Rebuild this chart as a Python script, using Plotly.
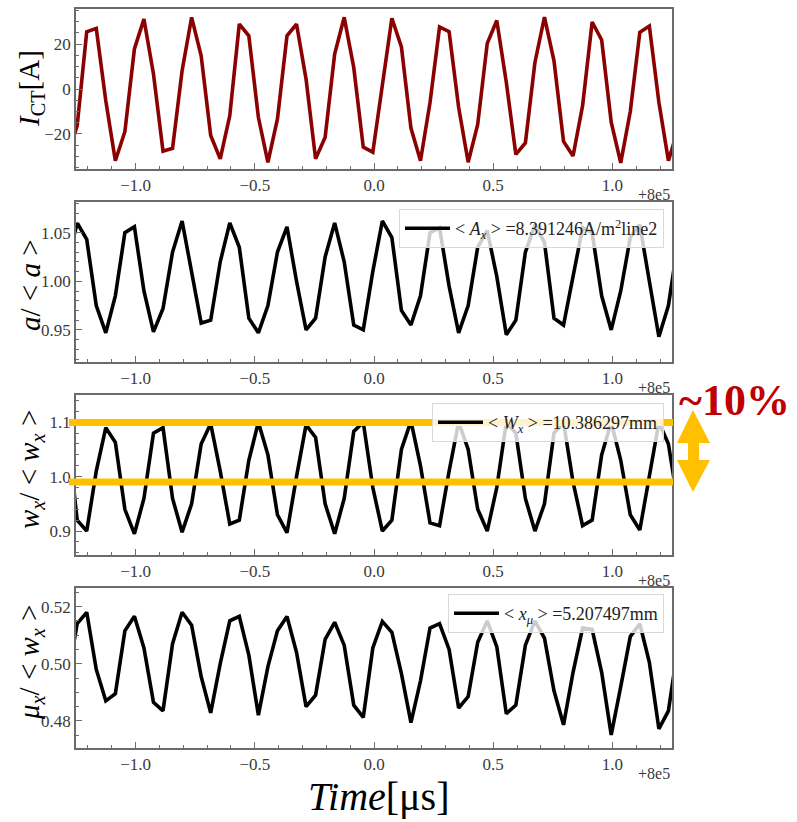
import plotly.graph_objects as go

# ---------------- data ----------------
time_us = [-1.285, -1.245, -1.205, -1.165, -1.125, -1.085, -1.045, -1.005, -0.965, -0.925,
           -0.885, -0.845, -0.805, -0.765, -0.725, -0.685, -0.645, -0.605, -0.565, -0.525,
           -0.485, -0.445, -0.405, -0.365, -0.325, -0.285, -0.245, -0.205, -0.165, -0.125,
           -0.085, -0.045, -0.005, 0.035, 0.075, 0.115, 0.155, 0.195, 0.235, 0.275,
           0.315, 0.355, 0.395, 0.435, 0.475, 0.515, 0.555, 0.595, 0.635, 0.675,
           0.715, 0.755, 0.795, 0.835, 0.875, 0.915, 0.955, 0.995, 1.035, 1.075,
           1.115, 1.155, 1.195, 1.235, 1.275]

i_ct = [-30.0, -16.3, 25.5, 27.0, -5.2, -31.9, -19.0, 17.8, 31.1, 6.7,
        -27.7, -26.4, 8.1, 31.9, 14.8, -20.7, -31.1, -11.9, 28.9, 23.7,
        -12.6, -32.6, -13.3, 23.7, 28.9, 4.4, -31.1, -21.5, 15.5, 31.9,
        9.6, -25.9, -28.1, 3.0, 31.5, 18.7, -17.4, -31.9, -6.0, 27.6,
        25.5, -8.1, -32.6, -15.8, 20.3, 30.5, 3.0, -29.1, -24.0, 11.8,
        32.0, 12.5, -23.3, -29.8, -7.4, 29.8, 21.8, -14.8, -32.9, -10.0,
        25.2, 28.0, -5.9, -31.9, -18.0]

a_norm = [1.020, 1.060, 1.043, 0.975, 0.947, 0.985, 1.050, 1.056, 0.990, 0.948,
          0.972, 1.030, 1.062, 1.010, 0.957, 0.960, 1.020, 1.060, 1.035, 0.962,
          0.947, 0.975, 1.030, 1.056, 1.000, 0.950, 0.962, 1.025, 1.060, 1.020,
          0.955, 0.950, 1.010, 1.062, 1.045, 0.970, 0.955, 0.985, 1.050, 1.055,
          0.995, 0.947, 0.975, 1.035, 1.052, 1.005, 0.945, 0.960, 1.030, 1.058,
          1.040, 0.962, 0.955, 1.005, 1.055, 1.050, 0.985, 0.950, 0.990, 1.045,
          1.058, 1.000, 0.943, 0.975, 1.040]

wx_norm = [1.080, 0.920, 0.900, 1.010, 1.090, 1.063, 0.940, 0.895, 0.960, 1.080,
           1.090, 0.960, 0.898, 0.950, 1.060, 1.097, 1.010, 0.913, 0.920, 1.030,
           1.100, 1.040, 0.930, 0.897, 1.000, 1.095, 1.072, 0.950, 0.895, 0.960,
           1.083, 1.100, 0.980, 0.900, 0.920, 1.050, 1.102, 1.020, 0.915, 0.910,
           1.010, 1.100, 1.050, 0.940, 0.900, 0.980, 1.100, 1.080, 0.960, 0.900,
           0.950, 1.080, 1.100, 0.990, 0.910, 0.920, 1.040, 1.100, 1.030, 0.930,
           0.902, 1.000, 1.100, 1.060, 0.950]

mux_norm = [0.495, 0.514, 0.518, 0.498, 0.487, 0.4895, 0.5115, 0.5166, 0.5055, 0.4865,
            0.4835, 0.507, 0.518, 0.5135, 0.4955, 0.4828, 0.500, 0.515, 0.5166, 0.503,
            0.482, 0.499, 0.5115, 0.5165, 0.504, 0.485, 0.489, 0.5085, 0.5145, 0.5065,
            0.4855, 0.4812, 0.5055, 0.5148, 0.511, 0.4965, 0.4794, 0.494, 0.5125, 0.514,
            0.505, 0.4845, 0.4885, 0.5075, 0.515, 0.506, 0.4825, 0.4855, 0.5065, 0.515,
            0.509, 0.4905, 0.4786, 0.497, 0.5125, 0.512, 0.497, 0.4751, 0.492, 0.5095,
            0.514, 0.5005, 0.4772, 0.4835, 0.506]

legend_names = [
    None,
    "&lt; <i>A<sub>x</sub></i> &gt; =8.391246A/m<sup>2</sup>line2",
    "&lt; <i>W<sub>x</sub></i> &gt; =10.386297mm",
    "&lt; <i>x<sub>μ</sub></i> &gt; =5.207497mm",
]
y_titles = [
    "<i>I</i><sub>CT</sub>[A]",
    "<i>a</i>/ &lt; <i>a</i> &gt;",
    "<i>w<sub>x</sub></i>/ &lt; <i>w<sub>x</sub></i> &gt;",
    "<i>μ<sub>x</sub></i>/ &lt; <i>w<sub>x</sub></i> &gt;",
]
x_tickvals = [-1.0, -0.5, 0.0, 0.5, 1.0]
x_ticktext = ["−1.0", "−0.5", "0.0", "0.5", "1.0"]
band_levels = [1.0995, 0.990]   # orange reference lines on w_x panel

# ---------------- layout helpers ----------------
W, H = 797, 822
PX_L, PX_R = 76, 672
panels_px = [(9, 169), (202, 362), (395, 555), (588, 748)]
FONT = "Liberation Serif"


def xp(px):
    return px / W


def yp(py):
    return 1 - py / H


series = [i_ct, a_norm, wx_norm, mux_norm]
colors = ["#8b0000", "black", "black", "black"]
legend_ids = [None, "legend", "legend2", "legend3"]
y_ranges = [[-35.6, 35.6], [0.917, 1.0815], [0.856, 1.15], [0.4705, 0.5265]]
y_dticks = [20, 0.05, 0.1, 0.02]
y_minor = [5, 0.01, 0.02, 0.005]
y_formats = ["d", ".2f", ".1f", ".2f"]

fig = go.Figure()
for k in range(4):
    ax = "" if k == 0 else str(k + 1)
    tr = dict(x=time_us, y=series[k], mode="lines",
              line=dict(color=colors[k], width=3.6),
              xaxis="x" + ax, yaxis="y" + ax)
    if legend_ids[k] is None:
        tr["showlegend"] = False
    else:
        tr["name"] = legend_names[k]
        tr["legend"] = legend_ids[k]
        tr["showlegend"] = True
    fig.add_trace(go.Scatter(**tr))

layout = dict(
    width=W, height=H,
    margin=dict(l=0, r=0, t=0, b=0),
    paper_bgcolor="white", plot_bgcolor="white",
    font=dict(family=FONT, size=17, color="#333333"),
)

axis_line = dict(showline=True, mirror=True, linecolor="#6b6b6b", linewidth=1.6,
                 showgrid=False, zeroline=False, automargin=False,
                 ticks="inside", ticklen=6, tickwidth=1.2, tickcolor="#6b6b6b",
                 tickfont=dict(family=FONT, size=17, color="#3a3a3a"))

for k in range(4):
    ax = "" if k == 0 else str(k + 1)
    top, bot = panels_px[k]
    layout["xaxis" + ax] = dict(
        domain=[xp(PX_L), xp(PX_R)], anchor="y" + ax, range=[-1.25, 1.25],
        tickmode="array", tickvals=x_tickvals, ticktext=x_ticktext,
        minor=dict(ticks="inside", ticklen=3, tickcolor="#6b6b6b", dtick=0.1, tick0=0,
                   showgrid=False),
        **axis_line)
    layout["yaxis" + ax] = dict(
        domain=[yp(bot), yp(top)], anchor="x" + ax, range=y_ranges[k],
        dtick=y_dticks[k], tick0=0, tickformat=y_formats[k],
        minor=dict(ticks="inside", ticklen=3, tickcolor="#6b6b6b", dtick=y_minor[k],
                   tick0=0, showgrid=False),
        **axis_line)

legend_px = [None, (664, 209), (664, 403), (664, 594)]
for k in range(1, 4):
    lid = legend_ids[k]
    layout[lid] = dict(
        x=xp(legend_px[k][0]), y=yp(legend_px[k][1]), xanchor="right", yanchor="top",
        bgcolor="rgba(255,255,255,0.8)", bordercolor="#d9d9d9", borderwidth=1,
        font=dict(family=FONT, size=18, color="#222222"),
        itemwidth=45, tracegroupgap=0,
    )

annotations = []
title_centers = [(31, 89), (30, 285), (31, 470), (31, 663)]
for k in range(4):
    cx, cy = title_centers[k]
    annotations.append(dict(
        text=y_titles[k], x=xp(cx), y=yp(cy), xref="paper", yref="paper",
        showarrow=False, textangle=-90, xanchor="center", yanchor="middle",
        font=dict(family=FONT, size=29, color="black")))
    annotations.append(dict(
        text="+8e5", x=xp(PX_R), y=yp(panels_px[k][1] + 25), xref="paper", yref="paper",
        showarrow=False, xanchor="right", yanchor="middle",
        font=dict(family=FONT, size=16, color="#3a3a3a")))

annotations.append(dict(
    text="<i>Time</i>[μs]", x=xp(378), y=yp(796), xref="paper", yref="paper",
    showarrow=False, xanchor="center", yanchor="middle",
    font=dict(family=FONT, size=40, color="black")))
annotations.append(dict(
    text="<b>~10%</b>", x=xp(734), y=yp(400), xref="paper", yref="paper",
    showarrow=False, xanchor="center", yanchor="middle",
    font=dict(family=FONT, size=44, color="#c00000")))
layout["annotations"] = annotations

shapes = []
for lvl in band_levels:
    shapes.append(dict(type="line", xref="paper", yref="y3",
                       x0=xp(69), x1=xp(673), y0=lvl, y1=lvl,
                       line=dict(color="#ffc000", width=7), layer="above"))

arrow_pts = [(693, 410), (710, 443), (699, 443), (699, 460), (710, 460), (693, 492),
             (677, 460), (688, 460), (688, 443), (677, 443)]
path = "M " + " L ".join(f"{xp(px):.5f},{yp(py):.5f}" for px, py in arrow_pts) + " Z"
shapes.append(dict(type="path", xref="paper", yref="paper", path=path,
                   fillcolor="#ffc000", line=dict(color="#ffc000", width=0), layer="above"))
layout["shapes"] = shapes

fig.update_layout(**layout)
fig.write_html("out.html")
